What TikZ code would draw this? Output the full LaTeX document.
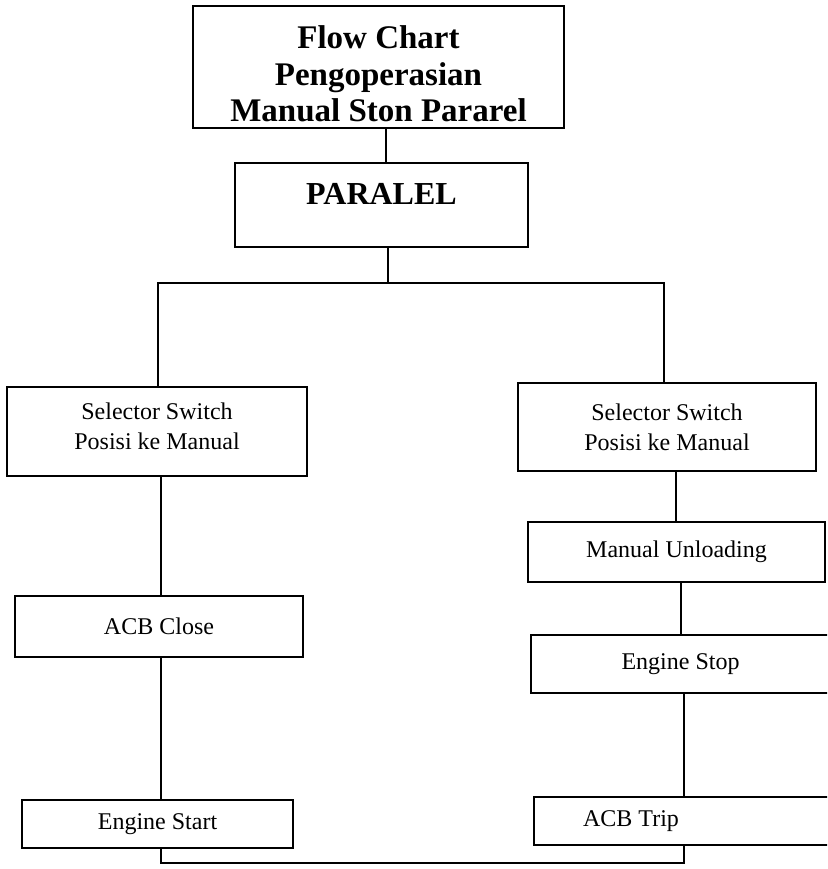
\documentclass[tikz,border=0pt]{standalone}
\usepackage{fontspec}
\setmainfont{Liberation Serif}
\begin{document}
\begin{tikzpicture}[x=1pt,y=-1pt,
  box/.style={draw, line width=1.5pt, inner sep=0pt, align=center,
    font=\fontsize{24}{30}\selectfont},
  link/.style={line width=1.5pt}]
\useasboundingbox (0,0) rectangle (827,869);
\clip (0,0) rectangle (827,869);
% boxes
\node[box, minimum width=371pt, minimum height=122pt,
  font=\fontsize{33}{36.5}\selectfont\bfseries] (title) at (378.5,67)
  {\raisebox{-11pt}[\height][\depth]{\begin{tabular}{@{}c@{}}Flow Chart\\Pengoperasian\\Manual Ston Pararel\end{tabular}}};
\node[box, minimum width=293pt, minimum height=84pt,
  font=\fontsize{32}{36}\selectfont\bfseries, text height=21pt, text depth=22pt]
  (paralel) at (381.5,205) {PARALEL};
\node[box, minimum width=300pt, minimum height=89pt] (selL) at (157,431.5)
  {\raisebox{3pt}[\height][\depth]{\begin{tabular}{@{}c@{}}Selector Switch\\Posisi ke Manual\end{tabular}}};
\node[box, minimum width=298pt, minimum height=88pt] (selR) at (667,427)
  {Selector Switch\\Posisi ke Manual};
\node[box, minimum width=288pt, minimum height=61pt] (acbC) at (159,626.5)
  {ACB Close};
\node[box, minimum width=271pt, minimum height=48pt] (estart) at (157.5,824)
  {Engine Start};
\node[box, minimum width=297pt, minimum height=60pt] (unload) at (676.5,552)
  {Manual Unloading};
\node[box, minimum width=299pt, minimum height=58pt] (estop) at (680.5,664)
  {Engine Stop};
\node[box, minimum width=296pt, minimum height=48pt] (acbT) at (682,821)
  {ACB Trip\hspace*{102pt}};
% connector coordinates
\coordinate (c1) at (386,0);
\coordinate (split) at (388,283);
\coordinate (hl) at (158,283);
\coordinate (hr) at (664,283);
\coordinate (xl) at (161,0);
\coordinate (xr1) at (676,0);
\coordinate (xr2) at (681,0);
\coordinate (xr3) at (684,0);
\coordinate (bl) at (161,863);
\coordinate (br) at (684,863);
% connectors
\draw[link] (title.south -| c1) -- (paralel.north -| c1);
\draw[link] (paralel.south -| split) -- (split);
\draw[link] (selL.north -| hl) -- (hl) -- (hr) -- (selR.north -| hr);
\draw[link] (selL.south -| xl) -- (acbC.north -| xl);
\draw[link] (acbC.south -| xl) -- (estart.north -| xl);
\draw[link] (selR.south -| xr1) -- (unload.north -| xr1);
\draw[link] (unload.south -| xr2) -- (estop.north -| xr2);
\draw[link] (estop.south -| xr3) -- (acbT.north -| xr3);
\draw[link] (estart.south -| bl) -- (bl) -- (br) -- (acbT.south -| br);
\end{tikzpicture}
\end{document}
